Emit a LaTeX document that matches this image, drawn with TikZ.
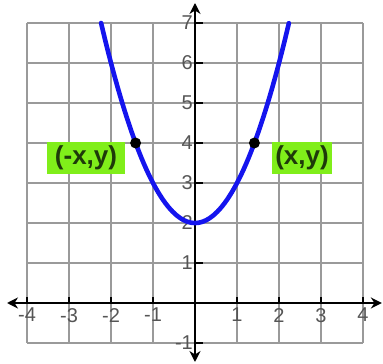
\documentclass[tikz,border=0pt]{standalone}
\usepackage{fontspec}
\setmainfont{Liberation Sans}
\usetikzlibrary{arrows.meta}
\definecolor{gridgray}{HTML}{9A9A9A}
\definecolor{ticklbl}{HTML}{555555}
\definecolor{lime}{HTML}{80EE1A}
\definecolor{darktxt}{HTML}{1E3A0A}
\definecolor{curveblue}{HTML}{1414EE}
\tikzset{
  gridline/.style={gridgray, line width=1.3pt},
  axisline/.style={black, line width=2.8pt, {Stealth[length=11pt,width=11pt]}-{Stealth[length=11pt,width=11pt]}},
  tickmark/.style={black, line width=2pt},
  ticklabel/.style={text=ticklbl, font=\fontsize{20}{20}\selectfont, inner sep=0pt},
  ptlabel/.style={fill=lime, text=darktxt, font=\bfseries\fontsize{26}{26}\selectfont, inner sep=2pt, minimum height=32pt},
  dotpt/.style={circle, fill=black, inner sep=0pt, minimum size=11pt},
  parab/.style={curveblue, line width=4.6pt, line cap=round}
}
\begin{document}
\begin{tikzpicture}[x=42pt,y=40pt]
\useasboundingbox (-195pt,-61pt) rectangle (188pt,303pt);
% grid
\foreach \g in {-4,...,4}{\draw[gridline] (\g,-1) -- (\g,7);}
\foreach \g in {-1,...,7}{\draw[gridline] (-4,\g) -- (4,\g);}
% axes
\coordinate (xl) at (-4.476,0);
\coordinate (xr) at (4.45,0);
\coordinate (yb) at (0,-1.475);
\coordinate (yt) at (0,7.5);
\draw[axisline] (xl) -- (xr);
\draw[axisline] (yb) -- (yt);
% ticks and labels
\foreach \i in {-4,-3,-2,-1,1,2,3,4}{
  \coordinate (xt\i) at (\i,0);
  \draw[tickmark] (xt\i) -- ++(0,6pt);
  \node[ticklabel, anchor=north] (xlab\i) at ([yshift=-5pt]xt\i) {\i};
}
\foreach \j in {-1,1,2,3,4,5,6,7}{
  \coordinate (yt\j) at (0,\j);
  \draw[tickmark] (yt\j) -- ++(8pt,0);
  \node[ticklabel, anchor=east] (ylab\j) at ([xshift=-2pt]yt\j) {\j};
}
% parabola
\draw[parab] plot[domain=-2.236:2.236, samples=80] (\x, {\x*\x+2});
% points
\node[dotpt] (pl) at (-1.4142,4) {};
\node[dotpt] (pr) at (1.4142,4) {};
% labels
\node[ptlabel, minimum width=78pt] (lbl) at (-2.595,3.625) {(-x,y)};
\node[ptlabel, minimum width=60pt] (lbr) at (2.548,3.625) {(x,y)};
\end{tikzpicture}
\end{document}
